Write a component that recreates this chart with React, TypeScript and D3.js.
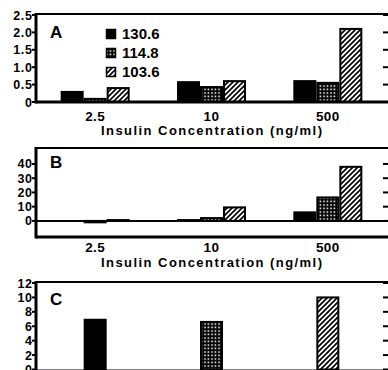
import { useEffect, useRef } from "react";
import * as d3 from "d3";

// insulin concentrations (ng/ml) and the three series
const concentrations = ["2.5", "10", "500"];
const series = ["130.6", "114.8", "103.6"];
const fills = ["#000", "url(#grid)", "url(#hatch)"];

// panel A
const aSolid = [0.29, 0.57, 0.6];
const aGrid = [0.09, 0.43, 0.55];
const aHatch = [0.4, 0.6, 2.1];
const aTicks = ["0", "0.5", "1.0", "1.5", "2.0", "2.5"];

// panel B
const bSolid = [0, 0.6, 6];
const bGrid = [-1, 2, 16.5];
const bHatch = [0.6, 9.5, 38];
const bTicks = [0, 10, 20, 30, 40];

// panel C (one bar per concentration)
const cValues = [6.9, 6.6, 10];
const cTicks = [0, 2, 4, 6, 8, 10, 12];

const W = 388;
const H = 370;
const font = "'Liberation Sans', Arial, sans-serif";

const App = () => {
  const svgRef = useRef<SVGSVGElement>(null);

  useEffect(() => {
    const svg = d3.select(svgRef.current);
    svg.selectAll("*").remove();

    const defs = svg.append("defs");
    const grid = defs
      .append("pattern")
      .attr("id", "grid")
      .attr("patternUnits", "userSpaceOnUse")
      .attr("width", 3.5)
      .attr("height", 3.5);
    grid.append("rect").attr("width", 3.5).attr("height", 3.5).attr("fill", "#000");
    grid
      .append("rect")
      .attr("x", 1.2)
      .attr("y", 1.2)
      .attr("width", 1.6)
      .attr("height", 1.6)
      .attr("fill", "#fff");
    const hatch = defs
      .append("pattern")
      .attr("id", "hatch")
      .attr("patternUnits", "userSpaceOnUse")
      .attr("width", 5)
      .attr("height", 5);
    hatch.append("rect").attr("width", 5).attr("height", 5).attr("fill", "#fff");
    hatch
      .append("path")
      .attr("d", "M-1,1 l2,-2 M0,5 l5,-5 M4,6 l2,-2")
      .attr("stroke", "#000")
      .attr("stroke-width", 1.7);

    const left = 36;
    const right = 388;
    const rightTick = 383;

    const x = d3.scaleBand().domain(concentrations).range([37, 386]);
    const xs = d3
      .scaleBand()
      .domain(series)
      .range([-34.5, 34.5])
      .paddingInner(0.087)
      .paddingOuter(0.0435);
    const center = (c: string) => x(c)! + x.bandwidth() / 2;

    const frame = (top: number, bottom: number, y: any, ticks: number[], labels: string[]) => {
      const g = svg.append("g");
      // top border
      g.append("line")
        .attr("x1", left)
        .attr("x2", right)
        .attr("y1", top)
        .attr("y2", top)
        .attr("stroke", "#000")
        .attr("stroke-width", 2);
      // left spine
      g.append("line")
        .attr("x1", left)
        .attr("x2", left)
        .attr("y1", top - 1)
        .attr("y2", bottom + 1.5)
        .attr("stroke", "#000")
        .attr("stroke-width", 3);
      // bottom border
      g.append("line")
        .attr("x1", left)
        .attr("x2", right)
        .attr("y1", bottom)
        .attr("y2", bottom)
        .attr("stroke", "#000")
        .attr("stroke-width", 3);
      ticks.forEach((t, i) => {
        g.append("line")
          .attr("x1", left - 4)
          .attr("x2", left)
          .attr("y1", y(t))
          .attr("y2", y(t))
          .attr("stroke", "#000")
          .attr("stroke-width", 2);
        g.append("line")
          .attr("x1", rightTick)
          .attr("x2", right)
          .attr("y1", y(t))
          .attr("y2", y(t))
          .attr("stroke", "#000")
          .attr("stroke-width", 2);
        g.append("text")
          .attr("x", left - 3.5)
          .attr("y", y(t))
          .attr("dy", "0.36em")
          .attr("text-anchor", "end")
          .attr("font-family", font)
          .attr("font-weight", "bold")
          .attr("font-size", 12.5)
          .attr("letter-spacing", 0.6)
          .text(labels[i]);
      });
      return g;
    };

    const xLabels = (tickY: number, titleY: number) => {
      concentrations.forEach((c) => {
        svg
          .append("text")
          .attr("x", center(c))
          .attr("y", tickY)
          .attr("text-anchor", "middle")
          .attr("font-family", font)
          .attr("font-weight", "bold")
          .attr("font-size", 13.5)
          .attr("letter-spacing", 0.4)
          .text(c);
      });
      svg
        .append("text")
        .attr("x", 101)
        .attr("y", titleY)
        .attr("textLength", 221)
        .attr("lengthAdjust", "spacing")
        .attr("font-family", font)
        .attr("font-weight", "bold")
        .attr("font-size", 13)
        .text("Insulin  Concentration  (ng/ml)");
    };

    const letter = (t: string, yy: number) =>
      svg
        .append("text")
        .attr("x", 50)
        .attr("y", yy)
        .attr("font-family", font)
        .attr("font-weight", "bold")
        .attr("font-size", 17)
        .text(t);

    const groupBars = (y: any, data: number[][]) => {
      concentrations.forEach((c, ci) => {
        series.forEach((s, si) => {
          const v = data[si][ci];
          svg
            .append("rect")
            .attr("x", center(c) + xs(s)!)
            .attr("width", xs.bandwidth())
            .attr("y", Math.min(y(v), y(0)))
            .attr("height", Math.abs(y(v) - y(0)))
            .attr("fill", fills[si])
            .attr("stroke", "#000")
            .attr("stroke-width", 2);
        });
      });
    };

    // ---- panel A
    const yA = d3.scaleLinear().domain([0, 2.5]).range([102, 15]);
    groupBars(yA, [aSolid, aGrid, aHatch]);
    frame(14, 102, yA, [0, 0.5, 1, 1.5, 2, 2.5], aTicks);
    xLabels(120.5, 135);
    letter("A", 38);
    series.forEach((s, i) => {
      const ly = 34 + i * 19;
      svg
        .append("rect")
        .attr("x", 106.5)
        .attr("y", ly - 4.5)
        .attr("width", 9)
        .attr("height", 9)
        .attr("fill", fills[i])
        .attr("stroke", "#000")
        .attr("stroke-width", 1.5);
      svg
        .append("text")
        .attr("x", 122)
        .attr("y", ly)
        .attr("dy", "0.36em")
        .attr("font-family", font)
        .attr("font-weight", "bold")
        .attr("font-size", 15)
        .text(s);
    });

    // ---- panel B
    const yB = d3.scaleLinear().domain([-11.3, 51]).range([237, 148.3]);
    groupBars(yB, [bSolid, bGrid, bHatch]);
    frame(148, 237, yB, bTicks, bTicks.map(String));
    svg
      .append("line")
      .attr("x1", left)
      .attr("x2", right)
      .attr("y1", yB(0))
      .attr("y2", yB(0))
      .attr("stroke", "#000")
      .attr("stroke-width", 2);
    xLabels(251.5, 267);
    letter("B", 168);

    // ---- panel C
    const yC = d3.scaleLinear().domain([0, 12]).range([369.5, 283]);
    cValues.forEach((v, i) => {
      const c = concentrations[i];
      svg
        .append("rect")
        .attr("x", center(c) - 10.5)
        .attr("width", 21)
        .attr("y", yC(v))
        .attr("height", yC(0) - yC(v))
        .attr("fill", fills[i])
        .attr("stroke", "#000")
        .attr("stroke-width", 2);
    });
    frame(282, 371, yC, cTicks, cTicks.map(String));
    letter("C", 305);
  }, []);

  return (
    <svg
      ref={svgRef}
      width={W}
      height={H}
      style={{ position: "absolute", left: 0, top: 0, background: "#fff" }}
    ></svg>
  );
};

export default App;
